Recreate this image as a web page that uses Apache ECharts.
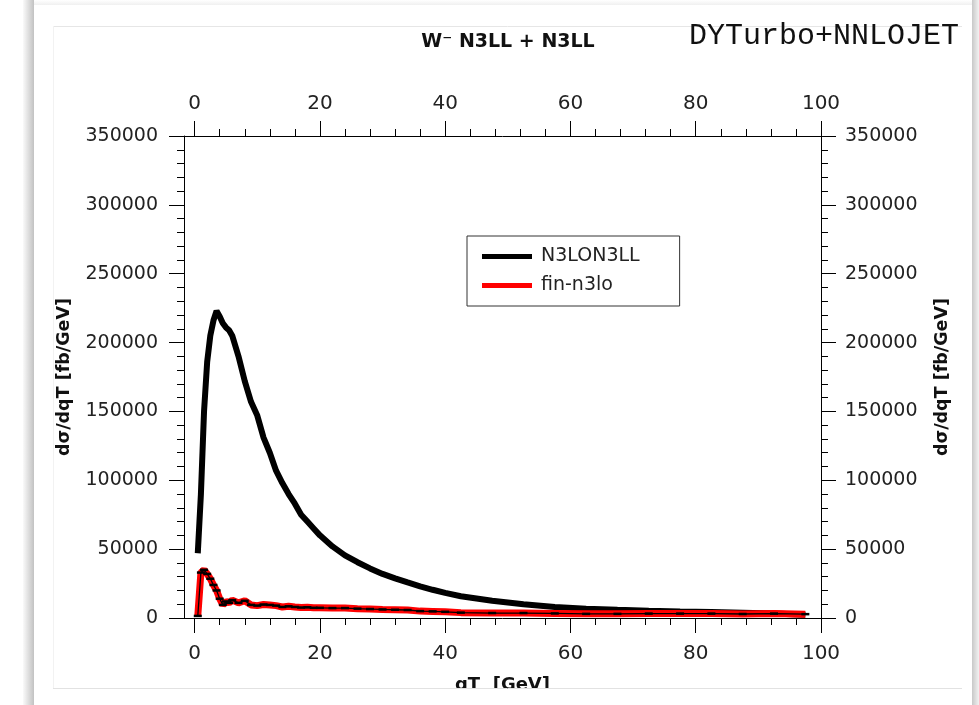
<!DOCTYPE html>
<html>
<head>
<meta charset="utf-8">
<script src="https://cdn.jsdelivr.net/npm/echarts@6/dist/echarts.min.js"></script>
<style>html,body{margin:0;padding:0;background:#fff;}#chart{width:979px;height:705px;}</style>
</head>
<body>
<div id="chart"></div>
<script>
// ---- data ----
const qtBlack = [0.5, 1, 1.5, 2, 2.5, 3, 3.5, 4, 4.5, 5, 5.5, 6, 7, 8, 9, 10, 11, 12, 13, 14, 15, 16, 17, 18, 19, 20, 22, 24, 26, 28, 30, 32, 34, 36, 38, 40, 42.5, 47.5, 52.5, 57.5, 62.5, 67.5, 72.5, 77.5, 82.5, 87.5, 92.5, 97.5];
const n3lon3ll = [47000, 90000, 150000, 186000, 205000, 216000, 223000, 219000, 214000, 211000, 209000, 205000, 190000, 172000, 157000, 147000, 131000, 120000, 107000, 98000, 90000, 83000, 75000, 70000, 65000, 60000, 52000, 45500, 40500, 36000, 32000, 28800, 25800, 23000, 20500, 18200, 15800, 12500, 10000, 8000, 6800, 6000, 5300, 4700, 4300, 3900, 3300, 2300];
const qtRed = [0.5, 1, 1.5, 2, 2.5, 3, 3.5, 4, 4.5, 5, 5.5, 6, 7, 8, 9, 10, 11, 12, 13, 14, 15, 16, 17, 18, 19, 20, 22, 24, 26, 28, 30, 32, 34, 36, 38, 40, 42.5, 47.5, 52.5, 57.5, 62.5, 67.5, 72.5, 77.5, 82.5, 87.5, 92.5, 97.5];
const finN3lo = [1500, 33000, 35000, 32000, 28500, 24000, 20000, 14000, 9500, 12000, 11000, 13000, 11000, 12500, 9500, 9000, 9800, 9500, 9000, 8000, 8500, 8000, 7600, 7800, 7400, 7400, 7200, 7200, 6800, 6500, 6200, 6000, 5800, 5000, 4800, 4500, 3900, 3600, 3600, 3300, 3000, 3000, 3200, 3200, 3200, 2900, 3200, 2800];
const xMajorTicks = [0, 20, 40, 60, 80, 100];
const xMinorTicks = [4, 8, 12, 16, 24, 28, 32, 36, 44, 48, 52, 56, 64, 68, 72, 76, 84, 88, 92, 96];
const seriesNames = ['N3LON3LL', 'fin-n3lo'];
const titleText = 'W\u207B N3LL + N3LL';
const stampText = 'DYTurbo+NNLOJET';
const xName = 'qT  [GeV]';
const yName = 'd\u03C3/dqT [fb/GeV]';

const chart = echarts.init(document.getElementById('chart'), null, {renderer: 'canvas'});
const LBL = {fontFamily: 'DejaVu Sans', color: '#222'};
const X_MIN = -1.7, X_MAX = 100;

function xAxisMajor(pos, margin) {
  return {
    type: 'value', position: pos, min: X_MIN, max: X_MAX,
    axisLine: {show: true, onZero: false, lineStyle: {color: '#000', width: 1}},
    axisTick: {show: true, inside: false, length: 15, customValues: xMajorTicks, lineStyle: {color: '#000'}},
    axisLabel: {show: true, customValues: xMajorTicks, margin: margin, fontSize: 20, ...LBL},
    splitLine: {show: false}
  };
}
function xAxisMinor(pos) {
  return {
    type: 'value', position: pos, min: X_MIN, max: X_MAX,
    axisLine: {show: false, onZero: false},
    axisTick: {show: true, inside: false, length: 7, customValues: xMinorTicks, lineStyle: {color: '#000'}},
    axisLabel: {show: false},
    splitLine: {show: false}
  };
}
function yAxis(pos, margin, nameGap) {
  return {
    type: 'value', position: pos, min: 0, max: 350000, interval: 50000,
    name: yName, nameLocation: 'middle', nameRotate: 90, nameGap: nameGap,
    nameTextStyle: {fontFamily: 'DejaVu Sans', fontWeight: 'bold', fontSize: 17.5, color: '#111'},
    axisLine: {show: true, onZero: false, lineStyle: {color: '#000', width: 1}},
    axisTick: {show: true, inside: false, length: 15, lineStyle: {color: '#000'}},
    minorTick: {show: true, splitNumber: 5, length: 7, lineStyle: {color: '#000'}},
    axisLabel: {margin: margin, fontSize: 19, ...LBL, formatter: v => String(v)},
    splitLine: {show: false}
  };
}

const option = {
  animation: false,
  backgroundColor: '#fff',
  title: [
    {text: titleText, left: 503, top: 28, textAlign: 'center',
     textStyle: {fontFamily: 'DejaVu Sans', fontWeight: 'bold', fontSize: 19, color: '#111'}},
    {text: stampText, left: 684, top: 16,
     textStyle: {fontFamily: 'Liberation Mono', fontWeight: 'normal', fontSize: 30, color: '#111'}}
  ],
  legend: {
    data: seriesNames, orient: 'vertical', left: 467, top: 236,
    padding: [11, 40, 11, 15], itemGap: 10, itemWidth: 50, itemHeight: 5, icon: 'rect',
    borderColor: '#333', borderWidth: 1, backgroundColor: '#fff',
    textStyle: {fontFamily: 'DejaVu Sans', fontSize: 19, color: '#222', padding: [0, 0, 0, 4]}
  },
  grid: {left: 184, right: 158, top: 136, bottom: 87, outerBoundsMode: 'none', containLabel: false},
  xAxis: [
    Object.assign(xAxisMajor('bottom', 26), {name: xName, nameLocation: 'middle', nameGap: 58,
      nameTextStyle: {fontFamily: 'DejaVu Sans', fontWeight: 'bold', fontSize: 18, color: '#111'}}),
    xAxisMajor('top', 22),
    xAxisMinor('bottom'),
    xAxisMinor('top')
  ],
  yAxis: [yAxis('left', 26, 111), yAxis('right', 24, 112)],
  series: [
    {name: seriesNames[0], type: 'line', xAxisIndex: 0, yAxisIndex: 0,
     data: qtBlack.map((x, i) => [x, n3lon3ll[i]]),
     showSymbol: false, lineStyle: {color: '#000', width: 6}, itemStyle: {color: '#000'}, z: 3},
    {name: seriesNames[1], type: 'line', xAxisIndex: 0, yAxisIndex: 0,
     data: qtRed.map((x, i) => [x, finN3lo[i]]),
     showSymbol: false, lineStyle: {color: '#ff0000', width: 7}, itemStyle: {color: '#ff0000'}, z: 4},
    {name: 'fin-n3lo central', type: 'line', xAxisIndex: 0, yAxisIndex: 0,
     data: qtRed.map((x, i) => [x, finN3lo[i]]),
     showSymbol: true, symbol: 'rect', symbolSize: [8, 2.5],
     lineStyle: {color: '#000', width: 1.3}, itemStyle: {color: '#000'}, z: 5}
  ],
  graphic: [
    {type: 'rect', shape: {x: 23, y: 0, width: 11, height: 705}, z: -10, silent: true,
     style: {fill: new echarts.graphic.LinearGradient(0, 0, 1, 0, [{offset: 0, color: '#fafafa'}, {offset: 1, color: '#c2c2c2'}])}},
    {type: 'rect', shape: {x: 972, y: 0, width: 7, height: 705}, z: -10, silent: true,
     style: {fill: new echarts.graphic.LinearGradient(0, 0, 1, 0, [{offset: 0, color: '#c8c8c8'}, {offset: 1, color: '#f2f2f2'}])}},
    {type: 'rect', shape: {x: 34, y: 0, width: 938, height: 5}, z: -10, silent: true,
     style: {fill: new echarts.graphic.LinearGradient(0, 0, 0, 1, [{offset: 0, color: '#ffffff'}, {offset: 1, color: '#f0f0f0'}])}},
    {type: 'line', shape: {x1: 53, y1: 26.5, x2: 962, y2: 26.5}, z: -5, silent: true, style: {stroke: '#e6e6e6', lineWidth: 1}},
    {type: 'line', shape: {x1: 53.5, y1: 26, x2: 53.5, y2: 688}, z: -5, silent: true, style: {stroke: '#f2f2f2', lineWidth: 1}},
    {type: 'rect', shape: {x: 36, y: 689, width: 935, height: 16}, z: 100, silent: true, style: {fill: '#ffffff'}},
    {type: 'line', shape: {x1: 53, y1: 688.5, x2: 962, y2: 688.5}, z: 101, silent: true, style: {stroke: '#e2e2e2', lineWidth: 1}}
  ]
};
chart.setOption(option);
</script>
</body>
</html>
